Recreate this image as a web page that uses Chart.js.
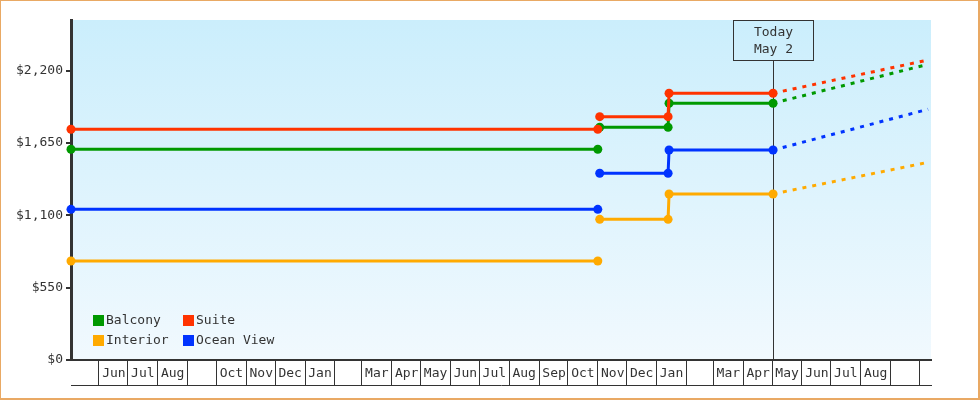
<!DOCTYPE html>
<html>
<head>
<meta charset="utf-8">
<script src="https://cdn.jsdelivr.net/npm/chart.js@4.4.0/dist/chart.umd.min.js"></script>
<style>
  body { margin: 0; background: #fff; }
  #moldura { width: 977px; height: 397px; border-style: solid; border-color: #e9a964; border-width: 1px 2px 2px 1px; }
</style>
</head>
<body>
<div id="moldura"><canvas id="grafico" width="977" height="397"></canvas></div>
<script>
// datas dos pontos (null no meio = intervalo sem linha)
const DATAS = ['2021-05-03', '2022-11-01', '2022-11-02', '2022-11-03', '2023-01-13', '2023-01-14', '2023-05-02', '2023-10-10'];
const HOJE = '2023-05-02';
const FIM_EIXO = '2023-10-13';

const suite = [1755, 1755, null, 1851, 1851, 2029, 2029, 2282];
const balcony = [1603, 1603, null, 1770, 1770, 1953, 1953, 2249];
const oceanView = [1146, 1146, null, 1420, 1420, 1597, 1597, 1907];
const interior = [753, 753, null, 1070, 1070, 1263, 1263, 1504];

const Y_TICKS = [0, 550, 1100, 1650, 2200];
const Y_MAX = 2586;

// rotulos dos meses a partir de jun/2021 (vazios onde o original nao mostra)
const MESES = ['Jun', 'Jul', 'Aug', '', 'Oct', 'Nov', 'Dec',
  'Jan', '', 'Mar', 'Apr', 'May', 'Jun', 'Jul', 'Aug', 'Sep', 'Oct', 'Nov', 'Dec',
  'Jan', '', 'Mar', 'Apr', 'May', 'Jun', 'Jul', 'Aug', '', ''];

const FONTE = 'DejaVu Sans Mono';
const TEXTO = '#333';

const dia = s => Math.round(Date.parse(s) / 86400000);
const INICIO_MESES = MESES.map((m, i) => Math.round(Date.UTC(2021, 5 + i, 1) / 86400000));
const IDX_HOJE = DATAS.indexOf(HOJE);

function serie(label, cor, valores) {
  return {
    label: label,
    data: DATAS.map((d, i) => ({ x: dia(d), y: valores[i] })),
    borderColor: cor,
    backgroundColor: cor,
    borderWidth: 3,
    pointStyle: 'circle',
    pointRadius: ctx => ctx.dataIndex === DATAS.length - 1 ? 0 : 4.5,
    pointBorderWidth: 0,
    pointHoverRadius: 0,
    spanGaps: false,
    clip: false,
    tension: 0,
    segment: {
      borderDash: ctx => ctx.p0DataIndex >= IDX_HOJE ? [4, 6] : undefined
    }
  };
}

const fundo = {
  id: 'fundo',
  beforeDraw(chart) {
    const { ctx, chartArea: a } = chart;
    const g = ctx.createLinearGradient(0, a.top, 0, a.bottom);
    g.addColorStop(0, '#cbeefc');
    g.addColorStop(1, '#f1f9fe');
    ctx.save();
    ctx.fillStyle = g;
    ctx.fillRect(a.left, a.top, a.right - a.left, a.bottom - a.top);
    ctx.restore();
  }
};

const marcaHoje = {
  id: 'marcaHoje',
  beforeDatasetsDraw(chart) {
    const { ctx, chartArea: a } = chart;
    const x = Math.round(chart.scales.x.getPixelForValue(dia(HOJE))) + 0.5;
    ctx.save();
    ctx.strokeStyle = TEXTO;
    ctx.lineWidth = 1;
    ctx.strokeRect(x - 40, a.top + 0.5, 80, 40);
    ctx.beginPath();
    ctx.moveTo(x, a.top + 40.5);
    ctx.lineTo(x, a.bottom);
    ctx.stroke();
    ctx.fillStyle = TEXTO;
    ctx.font = '13px "' + FONTE + '"';
    ctx.textAlign = 'center';
    ctx.textBaseline = 'middle';
    ctx.fillText('Today', x, a.top + 13);
    ctx.fillText('May 2', x, a.top + 30);
    ctx.restore();
  }
};

const LEGENDA = [['Balcony', 'Suite'], ['Interior', 'Ocean View']];
const legenda = {
  id: 'legenda',
  afterDraw(chart) {
    const { ctx, chartArea: a } = chart;
    const cores = {};
    chart.data.datasets.forEach(d => { cores[d.label] = d.borderColor; });
    ctx.save();
    ctx.font = '13px "' + FONTE + '"';
    ctx.textBaseline = 'middle';
    LEGENDA.forEach((linha, r) => {
      linha.forEach((nome, c) => {
        const x = a.left + 22 + c * 90;
        const y = a.bottom - 40 + r * 20;
        ctx.fillStyle = cores[nome];
        ctx.fillRect(x, y - 5, 11, 11);
        ctx.fillStyle = TEXTO;
        ctx.fillText(nome, x + 13, y + 1);
      });
    });
    ctx.restore();
  }
};

new Chart(document.getElementById('grafico'), {
  type: 'line',
  data: {
    datasets: [
      serie('Suite', '#ff3300', suite),
      serie('Balcony', '#009900', balcony),
      serie('Ocean View', '#0033ff', oceanView),
      serie('Interior', '#ffaa00', interior)
    ]
  },
  options: {
    responsive: false,
    devicePixelRatio: 1,
    animation: false,
    events: [],
    layout: { padding: { top: 19, right: 47, bottom: 13, left: 0 } },
    plugins: { legend: { display: false }, tooltip: { enabled: false } },
    scales: {
      x: {
        type: 'linear',
        position: 'bottom',
        weight: 0,
        min: dia(DATAS[0]),
        max: dia(FIM_EIXO),
        afterBuildTicks: s => { s.ticks = INICIO_MESES.map(v => ({ value: v })); },
        afterFit: s => { s.height = 25; },
        ticks: {
          autoSkip: false,
          maxRotation: 0,
          padding: -19,
          labelOffset: 15,
          color: TEXTO,
          font: { family: FONTE, size: 13 },
          callback: (v, i) => MESES[i]
        },
        grid: { drawOnChartArea: false, tickLength: 25, color: TEXTO, lineWidth: 1 },
        border: { color: TEXTO, width: 2 }
      },
      x2: {
        type: 'linear',
        position: 'bottom',
        weight: 1,
        afterFit: s => { s.height = 0; },
        ticks: { display: false },
        grid: { display: false },
        border: { color: TEXTO, width: 1 }
      },
      y: {
        min: 0,
        max: Y_MAX,
        afterBuildTicks: s => { s.ticks = Y_TICKS.map(v => ({ value: v })); },
        afterFit: s => { s.width = 70; },
        ticks: {
          padding: 3,
          color: TEXTO,
          font: { family: FONTE, size: 13 },
          callback: v => '$' + v.toLocaleString('en-US')
        },
        grid: { drawOnChartArea: false, tickLength: 5, color: TEXTO, lineWidth: 2 },
        border: { color: TEXTO, width: 3 }
      }
    }
  },
  plugins: [fundo, marcaHoje, legenda]
});
</script>
</body>
</html>
